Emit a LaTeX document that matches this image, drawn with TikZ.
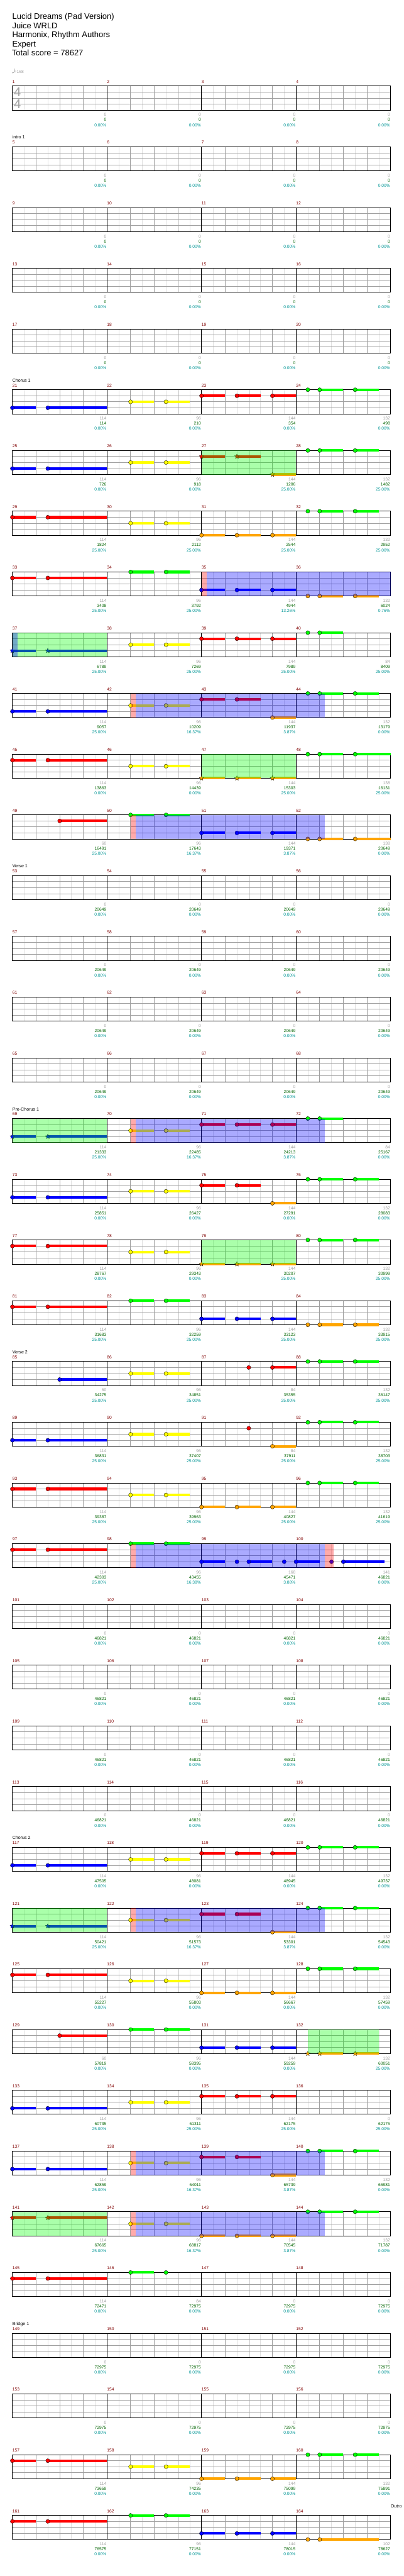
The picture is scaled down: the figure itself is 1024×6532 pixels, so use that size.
\documentclass[tikz,border=0pt]{standalone}
\usepackage{fontspec}
\setmainfont{Liberation Sans}
\usetikzlibrary{shapes.geometric}

\definecolor{lgreen}{RGB}{0,255,0}
\definecolor{lred}{RGB}{255,0,0}
\definecolor{lyellow}{RGB}{255,255,0}
\definecolor{lblue}{RGB}{0,0,255}
\definecolor{lorange}{RGB}{255,165,0}
\colorlet{lane0}{lgreen}
\colorlet{lane1}{lred}
\colorlet{lane2}{lyellow}
\colorlet{lane3}{lblue}
\colorlet{lane4}{lorange}
\definecolor{measred}{RGB}{128,0,0}
\definecolor{notegray}{RGB}{160,160,160}
\definecolor{sumgreen}{RGB}{0,100,0}
\definecolor{pctteal}{RGB}{0,150,150}
\definecolor{gridgray}{RGB}{160,160,160}
\definecolor{halfgray}{RGB}{224,224,224}

% lane, start beat, end beat (beats counted from the start of the row)
\newcommand\sus[3]{%
  \fill[lane#1] ({60*#2},{15.25*#1-3.3}) rectangle ({60*#3},{15.25*#1+3.3});
  \node[gem, fill=lane#1] at ({60*#2},{15.25*#1}) {};}
\newcommand\ssus[3]{%
  \fill[lane#1] ({60*#2},{15.25*#1-3.3}) rectangle ({60*#3},{15.25*#1+3.3});
  \node[spgem, fill=lane#1] at ({60*#2},{15.25*#1}) {};}
\newcommand\tap[2]{\node[gem, fill=lane#1] at ({60*#2},{15.25*#1}) {};}
\newcommand\stap[2]{\node[spgem, fill=lane#1] at ({60*#2},{15.25*#1}) {};}
% star power phrase, activation, lead-in
\newcommand\sphrase[2]{\fill[lgreen, fill opacity=0.333] ({60*#1},0) rectangle ({60*#2},61);}
\newcommand\spact[2]{\fill[lblue, fill opacity=0.333] ({60*#1},0) rectangle ({60*#2},61);}
\newcommand\splead[2]{\fill[lred, fill opacity=0.333] ({60*#1},0) rectangle ({60*#2},61);}

\begin{document}
\begin{tikzpicture}[x=0.75pt, y=-0.75pt,
    gem/.style={circle, draw, line width=0.4pt, inner sep=0pt, minimum size=7.6pt},
    spgem/.style={star, star points=5, star point ratio=2.2, draw, line width=0.3pt, inner sep=0pt, minimum size=9.5pt},
    chartrow/.style={shift={(31.3,{218.3+154*#1})}},
    heading/.style={anchor=base west, inner sep=0pt, font=\fontsize{15.5}{18}\selectfont},
    section/.style={anchor=base west, inner sep=0pt, font=\fontsize{8.5}{10}\selectfont},
    measno/.style={anchor=base west, inner sep=0pt, text=measred, font=\fontsize{8}{9}\selectfont},
    score/.style={anchor=base east, inner sep=0pt, font=\fontsize{8}{9}\selectfont}
]
    \fill[white] (0,0) rectangle (1024,6532);
    \useasboundingbox (0,0) rectangle (1024,6532);

    \node[heading] at (31,49.3) {Lucid Dreams (Pad Version)};
    \node[heading] at (31,72.3) {Juice WRLD};
    \node[heading] at (31,95.3) {Harmonix, Rhythm Authors};
    \node[heading] at (31,118.3) {Expert};
    \node[heading] at (30,141.5) {Total score = 78627};

    % tempo
    \fill[notegray] (33,184.3) ellipse [x radius=2.2, y radius=1.6];
    \draw[notegray, line width=0.6pt] (35,184) -- (35,174);
    \node[anchor=base west, inner sep=0pt, text=notegray, font=\fontsize{8}{9}\selectfont] at (36,185) {=168};

    % staves
    \foreach \r in {0,...,40}{
      \begin{scope}[chartrow=\r]
        \foreach \b in {0.5,1.5,...,15.5}
          \draw[halfgray, line width=0.6pt] ({60*\b},0) -- ({60*\b},61);
        \foreach \b in {1,2,3,5,6,7,9,10,11,13,14,15}
          \draw[gridgray, line width=0.6pt] ({60*\b},0) -- ({60*\b},61);
        \foreach \l in {1,2,3}
          \draw[gridgray, line width=0.9pt] (0,{15.25*\l}) -- (960,{15.25*\l});
        \foreach \m in {0,1,2,3}{
          \draw[black, line width=0.55pt] ({240*\m},0) -- ({240*\m},61);
          \pgfmathtruncatemacro\mn{4*\r+\m+1}
          \node[measno] at ({240*\m+0.3},-7.3) {\mn};
        }
        \draw[black, line width=1.1pt] (0,0) rectangle (960,61);
      \end{scope}
    }

    % time signature
    \node[anchor=base west, inner sep=0pt, text=notegray, font=\fontsize{24.4}{28}\selectfont] at (35,245.3) {4};
    \node[anchor=base west, inner sep=0pt, text=notegray, font=\fontsize{24.4}{28}\selectfont] at (35,275) {4};

    % sections
    \begin{scope}[chartrow=1] \node[section] at (0,-20) {intro 1}; \end{scope}
    \begin{scope}[chartrow=5] \node[section] at (0,-20) {Chorus 1}; \end{scope}
    \begin{scope}[chartrow=13] \node[section] at (0,-20) {Verse 1}; \end{scope}
    \begin{scope}[chartrow=17] \node[section] at (0,-20) {Pre-Chorus 1}; \end{scope}
    \begin{scope}[chartrow=21] \node[section] at (0,-20) {Verse 2}; \end{scope}
    \begin{scope}[chartrow=29] \node[section] at (0,-20) {Chorus 2}; \end{scope}
    \begin{scope}[chartrow=37] \node[section] at (0,-20) {Bridge 1}; \end{scope}
    \begin{scope}[chartrow=40] \node[section] at (960,-20) {Outro}; \end{scope}

    % 21-24
    \begin{scope}[chartrow=5]
      \sus3{0}{1} \sus3{1.5}{4} \sus2{5}{6} \sus2{6.5}{7.5}
      \sus1{8}{9} \sus1{9.5}{10.5} \sus1{11}{12}
      \tap0{12.5} \sus0{13}{14} \sus0{14.5}{15.5}
    \end{scope}
    % 25-28
    \begin{scope}[chartrow=6]
      \sus3{0}{1} \sus3{1.5}{4} \sus2{5}{6} \sus2{6.5}{7.5}
      \ssus1{8}{9} \ssus1{9.5}{10.5} \ssus4{11}{12}
      \tap0{12.5} \sus0{13}{14} \sus0{14.5}{15.5}
      \sphrase{8}{12}
    \end{scope}
    % 29-32
    \begin{scope}[chartrow=7]
      \sus1{0}{1} \sus1{1.5}{4} \sus2{5}{6} \sus2{6.5}{7.5}
      \sus4{8}{9} \sus4{9.5}{10.5} \sus4{11}{12}
      \tap0{12.5} \sus0{13}{14} \sus0{14.5}{15.5}
    \end{scope}
    % 33-36
    \begin{scope}[chartrow=8]
      \sus1{0}{1} \sus1{1.5}{4} \sus0{5}{6} \sus0{6.5}{7.5}
      \sus3{8}{9} \sus3{9.5}{10.5} \sus3{11}{12}
      \tap4{12.5} \sus4{13}{14} \sus4{14.5}{15.5}
      \splead{8}{8.22} \spact{8.22}{16}
    \end{scope}
    % 37-40
    \begin{scope}[chartrow=9]
      \ssus3{0}{1} \ssus3{1.5}{4} \sus2{5}{6} \sus2{6.5}{7.5}
      \sus1{8}{9} \sus1{9.5}{10.5} \sus1{11}{12}
      \tap0{12.5} \sus0{13}{14}
      \sphrase{0}{4} \spact{0}{0.22}
    \end{scope}
    % 41-44
    \begin{scope}[chartrow=10]
      \sus3{0}{1} \sus3{1.5}{4} \sus2{5}{6} \sus2{6.5}{7.5}
      \sus1{8}{9} \sus1{9.5}{10.5} \sus4{11}{12}
      \tap0{12.5} \sus0{13}{14} \sus0{14.5}{15.5}
      \splead{5}{5.22} \spact{5.22}{13.22}
    \end{scope}
    % 45-48
    \begin{scope}[chartrow=11]
      \sus1{0}{1} \sus1{1.5}{4} \sus2{5}{6} \sus2{6.5}{7.5}
      \ssus4{8}{9} \ssus4{9.5}{10.5} \ssus4{11}{12}
      \tap0{12.5} \sus0{13}{14} \sus0{14.5}{16}
      \sphrase{8}{12}
    \end{scope}
    % 49-52
    \begin{scope}[chartrow=12]
      \sus1{2}{4} \sus0{5}{6} \sus0{6.5}{7.5}
      \sus3{8}{9} \sus3{9.5}{10.5} \sus3{11}{12}
      \tap4{12.5} \sus4{13}{14} \sus4{14.5}{16}
      \splead{5}{5.22} \spact{5.22}{13.22}
    \end{scope}
    % 69-72
    \begin{scope}[chartrow=17]
      \ssus3{0}{1} \ssus3{1.5}{4} \sus2{5}{6} \sus2{6.5}{7.5}
      \sus1{8}{9} \sus1{9.5}{10.5} \sus1{11}{12}
      \tap0{12.5} \sus0{13}{14}
      \sphrase{0}{4} \splead{5}{5.22} \spact{5.22}{13.22}
    \end{scope}
    % 73-76
    \begin{scope}[chartrow=18]
      \sus3{0}{1} \sus3{1.5}{4} \sus2{5}{6} \sus2{6.5}{7.5}
      \sus1{8}{9} \sus1{9.5}{10.5} \sus4{11}{12}
      \tap0{12.5} \sus0{13}{14} \sus0{14.5}{15.5}
    \end{scope}
    % 77-80
    \begin{scope}[chartrow=19]
      \sus1{0}{1} \sus1{1.5}{4} \sus2{5}{6} \sus2{6.5}{7.5}
      \ssus4{8}{9} \ssus4{9.5}{10.5} \ssus4{11}{12}
      \tap0{12.5} \sus0{13}{14} \sus0{14.5}{15.5}
      \sphrase{8}{12}
    \end{scope}
    % 81-84
    \begin{scope}[chartrow=20]
      \sus1{0}{1} \sus1{1.5}{4} \sus0{5}{6} \sus0{6.5}{7.5}
      \sus3{8}{9} \sus3{9.5}{10.5} \sus3{11}{12}
      \tap4{12.5} \sus4{13}{14} \sus4{14.5}{15.5}
    \end{scope}
    % 85-88
    \begin{scope}[chartrow=21]
      \sus3{2}{4} \sus2{5}{6} \sus2{6.5}{7.5}
      \tap1{10} \sus1{11}{12}
      \tap0{12.5} \sus0{13}{14} \sus0{14.5}{15.5}
    \end{scope}
    % 89-92
    \begin{scope}[chartrow=22]
      \sus3{0}{1} \sus3{1.5}{4} \sus2{5}{6} \sus2{6.5}{7.5}
      \tap1{10} \sus4{11}{12}
      \tap0{12.5} \sus0{13}{14} \sus0{14.5}{15.5}
    \end{scope}
    % 93-96
    \begin{scope}[chartrow=23]
      \sus1{0}{1} \sus1{1.5}{4} \sus2{5}{6} \sus2{6.5}{7.5}
      \sus4{8}{9} \sus4{9.5}{10.5} \sus4{11}{12}
      \tap0{12.5} \sus0{13}{14} \sus0{14.5}{15.5}
    \end{scope}
    % 97-100
    \begin{scope}[chartrow=24]
      \sus1{0}{1} \sus1{1.5}{4} \sus0{5}{6} \sus0{6.5}{7.5}
      \sus3{8}{9} \tap3{9.5} \sus3{10}{11} \tap3{11.5}
      \sus3{12}{13} \tap3{13.5} \sus3{14}{15.75}
      \splead{5}{5.22} \spact{5.22}{13.22} \splead{13.22}{13.6}
    \end{scope}
    % 117-120
    \begin{scope}[chartrow=29]
      \sus3{0}{1} \sus3{1.5}{4} \sus2{5}{6} \sus2{6.5}{7.5}
      \sus1{8}{9} \sus1{9.5}{10.5} \sus1{11}{12}
      \tap0{12.5} \sus0{13}{14} \sus0{14.5}{15.5}
    \end{scope}
    % 121-124
    \begin{scope}[chartrow=30]
      \ssus3{0}{1} \ssus3{1.5}{4} \sus2{5}{6} \sus2{6.5}{7.5}
      \sus1{8}{9} \sus1{9.5}{10.5} \sus4{11}{12}
      \tap0{12.5} \sus0{13}{14} \sus0{14.5}{15.5}
      \sphrase{0}{4} \splead{5}{5.22} \spact{5.22}{13.22}
    \end{scope}
    % 125-128
    \begin{scope}[chartrow=31]
      \sus1{0}{1} \sus1{1.5}{4} \sus2{5}{6} \sus2{6.5}{7.5}
      \sus4{8}{9} \sus4{9.5}{10.5} \sus4{11}{12}
      \tap0{12.5} \sus0{13}{14} \sus0{14.5}{15.5}
    \end{scope}
    % 129-132
    \begin{scope}[chartrow=32]
      \sus1{2}{4} \sus0{5}{6} \sus0{6.5}{7.5}
      \sus3{8}{9} \sus3{9.5}{10.5} \sus3{11}{12}
      \stap4{12.5} \ssus4{13}{14} \ssus4{14.5}{15.5}
      \sphrase{12.5}{15.5}
    \end{scope}
    % 133-136
    \begin{scope}[chartrow=33]
      \sus3{0}{1} \sus3{1.5}{4} \sus2{5}{6} \sus2{6.5}{7.5}
      \sus1{8}{9} \sus1{9.5}{10.5} \sus1{11}{12}
    \end{scope}
    % 137-140
    \begin{scope}[chartrow=34]
      \sus3{0}{1} \sus3{1.5}{4} \sus2{5}{6} \sus2{6.5}{7.5}
      \sus1{8}{9} \sus1{9.5}{10.5} \sus4{11}{12}
      \tap0{12.5} \sus0{13}{14} \sus0{14.5}{15.5}
      \splead{5}{5.22} \spact{5.22}{13.22}
    \end{scope}
    % 141-144
    \begin{scope}[chartrow=35]
      \ssus1{0}{1} \ssus1{1.5}{4} \sus2{5}{6} \sus2{6.5}{7.5}
      \sus4{8}{9} \sus4{9.5}{10.5} \sus4{11}{12}
      \tap0{12.5} \sus0{13}{14} \sus0{14.5}{15.5}
      \sphrase{0}{4} \splead{5}{5.22} \spact{5.22}{13.22}
    \end{scope}
    % 145-148
    \begin{scope}[chartrow=36]
      \sus1{0}{1} \sus1{1.5}{4} \sus0{5}{6} \tap0{6.5}
    \end{scope}
    % 157-160
    \begin{scope}[chartrow=39]
      \sus1{0}{1} \sus1{1.5}{4} \sus2{5}{6} \sus2{6.5}{7.5}
      \sus4{8}{9} \sus4{9.5}{10.5} \sus4{11}{12}
      \tap0{12.5} \sus0{13}{14} \sus0{14.5}{15.5}
    \end{scope}
    % 161-164
    \begin{scope}[chartrow=40]
      \sus1{0}{1} \sus1{1.5}{4} \sus0{5}{6} \sus0{6.5}{7.5}
      \sus3{8}{9} \sus3{9.5}{10.5} \sus3{11}{12}
      \tap4{12.5} \sus4{13}{15.5}
    \end{scope}

    % scores: row / measure points / running total / percentage
    \foreach \r/\ga/\gb/\gc/\gd/\ca/\cb/\cc/\cd/\pa/\pb/\pc/\pd in {
      0/0/0/0/0/0/0/0/0/0.00/0.00/0.00/0.00,
      1/0/0/0/0/0/0/0/0/0.00/0.00/0.00/0.00,
      2/0/0/0/0/0/0/0/0/0.00/0.00/0.00/0.00,
      3/0/0/0/0/0/0/0/0/0.00/0.00/0.00/0.00,
      4/0/0/0/0/0/0/0/0/0.00/0.00/0.00/0.00,
      5/114/96/144/132/114/210/354/498/0.00/0.00/0.00/0.00,
      6/114/96/144/132/726/918/1206/1482/0.00/0.00/25.00/25.00,
      7/114/96/144/132/1824/2112/2544/2952/25.00/25.00/25.00/25.00,
      8/114/96/144/132/3408/3792/4944/6024/25.00/25.00/13.26/0.76,
      9/114/96/144/84/6789/7269/7989/8409/25.00/25.00/25.00/25.00,
      10/114/96/144/132/9057/10209/11937/13179/25.00/16.37/3.87/0.00,
      11/114/96/144/138/13863/14439/15303/16131/0.00/0.00/25.00/25.00,
      12/60/96/144/138/16491/17643/19371/20649/25.00/16.37/3.87/0.00,
      13/0/0/0/0/20649/20649/20649/20649/0.00/0.00/0.00/0.00,
      14/0/0/0/0/20649/20649/20649/20649/0.00/0.00/0.00/0.00,
      15/0/0/0/0/20649/20649/20649/20649/0.00/0.00/0.00/0.00,
      16/0/0/0/0/20649/20649/20649/20649/0.00/0.00/0.00/0.00,
      17/114/96/144/84/21333/22485/24213/25167/25.00/16.37/3.87/0.00,
      18/114/96/144/132/25851/26427/27291/28083/0.00/0.00/0.00/0.00,
      19/114/96/144/132/28767/29343/30207/30999/0.00/0.00/25.00/25.00,
      20/114/96/144/132/31683/32259/33123/33915/25.00/25.00/25.00/25.00,
      21/60/96/84/132/34275/34851/35355/36147/25.00/25.00/25.00/25.00,
      22/114/96/84/132/36831/37407/37911/38703/25.00/25.00/25.00/25.00,
      23/114/96/144/132/39387/39963/40827/41619/25.00/25.00/25.00/25.00,
      24/114/96/168/141/42303/43455/45471/46821/25.00/16.38/3.88/0.00,
      25/0/0/0/0/46821/46821/46821/46821/0.00/0.00/0.00/0.00,
      26/0/0/0/0/46821/46821/46821/46821/0.00/0.00/0.00/0.00,
      27/0/0/0/0/46821/46821/46821/46821/0.00/0.00/0.00/0.00,
      28/0/0/0/0/46821/46821/46821/46821/0.00/0.00/0.00/0.00,
      29/114/96/144/132/47505/48081/48945/49737/0.00/0.00/0.00/0.00,
      30/114/96/144/132/50421/51573/53301/54543/25.00/16.37/3.87/0.00,
      31/114/96/144/132/55227/55803/56667/57459/0.00/0.00/0.00/0.00,
      32/60/96/144/132/57819/58395/59259/60051/0.00/0.00/0.00/25.00,
      33/114/96/144/0/60735/61311/62175/62175/25.00/25.00/25.00/25.00,
      34/114/96/144/132/62859/64011/65739/66981/25.00/16.37/3.87/0.00,
      35/114/96/144/132/67665/68817/70545/71787/25.00/16.37/3.87/0.00,
      36/114/84/0/0/72471/72975/72975/72975/0.00/0.00/0.00/0.00,
      37/0/0/0/0/72975/72975/72975/72975/0.00/0.00/0.00/0.00,
      38/0/0/0/0/72975/72975/72975/72975/0.00/0.00/0.00/0.00,
      39/114/96/144/132/73659/74235/75099/75891/0.00/0.00/0.00/0.00,
      40/114/96/144/102/76575/77151/78015/78627/0.00/0.00/0.00/0.00}{
      \begin{scope}[chartrow=\r]
        \foreach \m/\g/\c/\p in {1/\ga/\ca/\pa, 2/\gb/\cb/\pb, 3/\gc/\cc/\pc, 4/\gd/\cd/\pd}{
          \node[score, text=notegray] at ({240*\m-1},76.7) {\g};
          \node[score, text=sumgreen] at ({240*\m-1},89.4) {\c};
          \node[score, text=pctteal] at ({240*\m-1},102.4) {\p\%};
        }
      \end{scope}
    }
\end{tikzpicture}
\end{document}
